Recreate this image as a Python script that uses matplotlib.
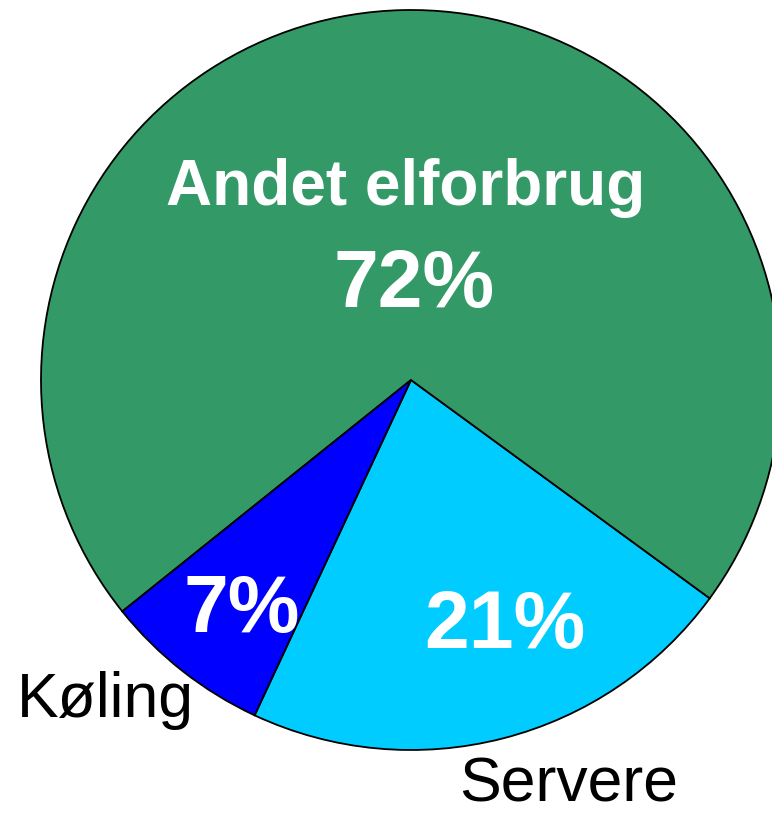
import matplotlib
matplotlib.use("Agg")
import matplotlib.pyplot as plt

# Data (order drawn counter-clockwise starting from the Servere/Køling border)
categories = ["Servere", "Andet elforbrug", "Køling"]
values = [21.9, 70.8, 7.3]
pct_labels = ["21%", "72%", "7%"]
colors = ["#00CCFF", "#339966", "#0000FF"]

W, H = 772, 814
fig = plt.figure(figsize=(W / 100, H / 100), dpi=100)
cx, cy, r = 411, 380, 370
ax = fig.add_axes([(cx - r) / W, (H - (cy + r)) / H, 2 * r / W, 2 * r / H])

ax.pie(values, colors=colors, startangle=-115, counterclock=True,
       wedgeprops=dict(edgecolor="black", linewidth=1.3), radius=1)
ax.set_xlim(-1, 1)
ax.set_ylim(-1, 1)
ax.set_aspect("auto")
ax.axis("off")


def px(x, y):
    return ((x - cx) / r, (cy - y) / r)


font = ["Liberation Sans", "DejaVu Sans"]

# inside labels (white, bold)
ax.text(*px(405.5, 205), categories[1], color="white", fontsize=46,
        fontweight="bold", ha="center", va="baseline", family=font)
ax.text(*px(414, 307), pct_labels[1], color="white", fontsize=58,
        fontweight="bold", ha="center", va="baseline", family=font)
ax.text(*px(505, 648), pct_labels[0], color="white", fontsize=58,
        fontweight="bold", ha="center", va="baseline", family=font)
ax.text(*px(242, 632), pct_labels[2], color="white", fontsize=58,
        fontweight="bold", ha="center", va="baseline", family=font)

# outside labels (black)
ax.text(*px(105.5, 717), categories[2], color="black", fontsize=45,
        ha="center", va="baseline", family=font, clip_on=False)
ax.text(*px(569, 801), categories[0], color="black", fontsize=45,
        ha="center", va="baseline", family=font, clip_on=False)

fig.savefig("out.png", dpi=100, facecolor="white")
